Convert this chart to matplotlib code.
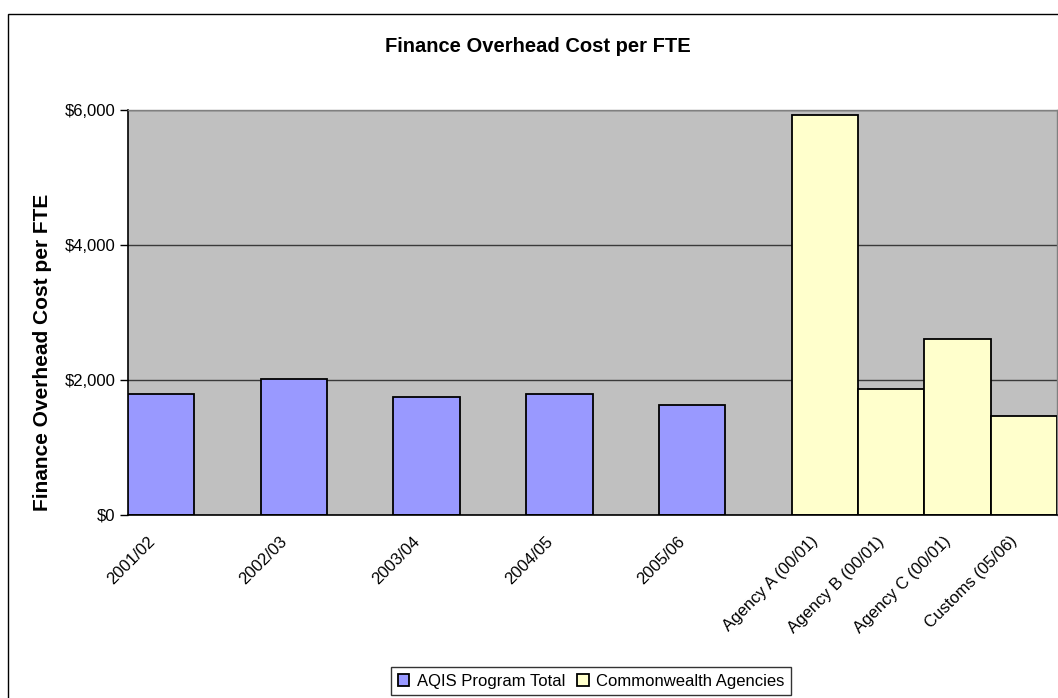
import numpy as np
import matplotlib
matplotlib.use("Agg")
import matplotlib.pyplot as plt
from matplotlib.patches import Rectangle
from matplotlib.transforms import ScaledTranslation

plt.rcParams['font.family'] = ['Liberation Sans', 'DejaVu Sans']

# Data
periods = ['2001/02', '2002/03', '2003/04', '2004/05', '2005/06']
aqis_cost = [1800, 2020, 1750, 1800, 1630]
agencies = ['Agency A (00/01)', 'Agency B (00/01)', 'Agency C (00/01)', 'Customs (05/06)']
agency_cost = [5925, 1865, 2610, 1470]
y_ticks = [0, 2000, 4000, 6000]
series_names = ['AQIS Program Total', 'Commonwealth Agencies']

aqis_color = '#9999FF'
agency_color = '#FFFFCC'
plot_bg = '#C0C0C0'

W, H = 1058, 698
fig = plt.figure(figsize=(W / 100, H / 100), dpi=100)

# Outer chart frame (runs off the right and bottom edges)
fig.patches.append(Rectangle((8 / W, -0.05), 1.2, 1 - 14 / H + 0.05,
                             transform=fig.transFigure, fill=False,
                             edgecolor='black', linewidth=1.0, clip_on=False))

left, right, top, bottom = 128, 1057, 110, 515
ax = fig.add_axes([left / W, 1 - bottom / H, (right - left) / W, (bottom - top) / H])
ax.set_facecolor(plot_bg)

# Two-series clustered layout: 7 category slots, each bar takes half a slot
bar_w = 0.5
aqis_x = np.arange(len(periods)) + bar_w / 2
agency_x = len(periods) + np.arange(len(agencies)) * bar_w + bar_w / 2

ax.bar(aqis_x, aqis_cost, width=bar_w, color=aqis_color, edgecolor='black',
       linewidth=1.3, label=series_names[0], zorder=3)
ax.bar(agency_x, agency_cost, width=bar_w, color=agency_color, edgecolor='black',
       linewidth=1.3, label=series_names[1], zorder=3)

ax.set_xlim(0, 7)
ax.set_ylim(0, 6000)
ax.set_yticks(y_ticks)
ax.set_yticklabels(['${:,}'.format(v) for v in y_ticks], fontsize=12)
ax.yaxis.grid(True, color='#3a3a3a', linewidth=1.0, zorder=1)
ax.tick_params(axis='y', direction='out', length=6, width=1, pad=3)

ax.set_xticks(np.concatenate([aqis_x, agency_x]))
ax.set_xticklabels(periods + agencies, rotation=45, ha='right', va='center',
                   rotation_mode='anchor', fontsize=12)
ax.tick_params(axis='x', length=0, pad=0)
shift = ScaledTranslation(-9 / 100, -24 / 100, fig.dpi_scale_trans)
for lbl in ax.get_xticklabels():
    lbl.set_transform(lbl.get_transform() + shift)

for side in ['top', 'right']:
    ax.spines[side].set_color('#808080')
    ax.spines[side].set_linewidth(1.0)
for side in ['left', 'bottom']:
    ax.spines[side].set_color('black')
    ax.spines[side].set_linewidth(1.2)
ax.spines['bottom'].set_zorder(4)

fig.text(538 / W, 1 - 47 / H, 'Finance Overhead Cost per FTE', ha='center', va='center',
         fontsize=14.5, fontweight='bold')
fig.text(43 / W, 1 - 352 / H, 'Finance Overhead Cost per FTE', ha='center', va='center',
         rotation=90, fontsize=15, fontweight='bold')

leg = fig.legend(loc='upper left', bbox_to_anchor=(391 / W, 1 - 667 / H), ncol=2,
                 fontsize=12, frameon=True, fancybox=False, edgecolor='black',
                 handlelength=0.7, handleheight=0.7, handletextpad=0.45,
                 columnspacing=0.7, borderpad=0.4, borderaxespad=0)
leg.get_frame().set_linewidth(1.0)

fig.savefig('out.png', dpi=100)
